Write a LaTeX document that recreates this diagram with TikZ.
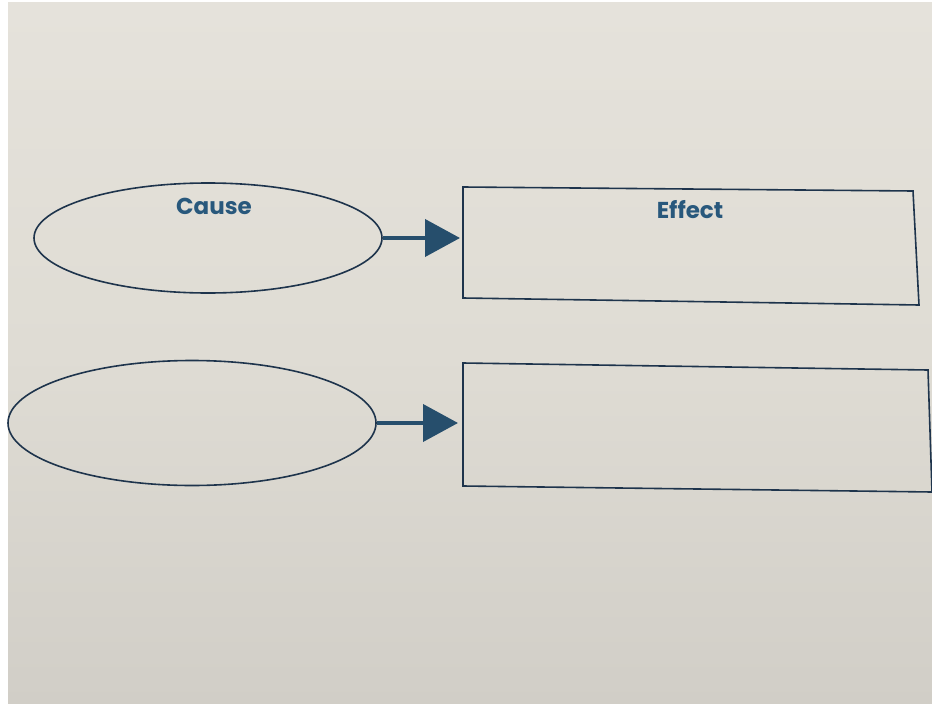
\documentclass[tikz,border=0pt]{standalone}
\usepackage{fontspec}
\setmainfont{Poppins}
\usetikzlibrary{shapes.geometric,arrows.meta}
\definecolor{paperTop}{RGB}{229,226,219}
\definecolor{paperMid}{RGB}{223,220,212}
\definecolor{paperBot}{RGB}{209,206,199}
\definecolor{ink}{RGB}{30,52,76}
\definecolor{textblue}{RGB}{40,88,124}
\definecolor{arrowblue}{RGB}{38,78,108}
\tikzset{
  causeshape/.style={ellipse, draw=ink, line width=1.6pt, inner sep=0pt},
  effectbox/.style={draw=ink, line width=1.6pt},
  label/.style={text=textblue, font=\fontsize{23}{23}\selectfont\bfseries},
  linkarrow/.style={draw=arrowblue, line width=4pt,
    -{Triangle[length=35pt,width=37pt]}, shorten >=3pt},
}
\begin{document}
\begin{tikzpicture}[x=1pt,y=-1pt]
\useasboundingbox (0,0) rectangle (932,704);
\fill[white] (0,0) rectangle (932,704);
\shade[top color=paperTop, bottom color=paperBot, middle color=paperMid] (8,2) rectangle (932,704);
% top row
\node[causeshape, minimum width=348pt, minimum height=110pt] (c1) at (208,238) {};
\node[label] (ct) at (214,206) {Cause};
\draw[effectbox] (463,187) -- (913,191) -- (919,305) -- (463,298) -- cycle;
\node[label] (et) at (690,210) {Effect};
\coordinate (e1w) at (463,238);
\draw[linkarrow] (c1.east) -- (e1w);
% bottom row
\node[causeshape, minimum width=368pt, minimum height=125pt] (c2) at (192,423) {};
\draw[effectbox] (463,363) -- (928,370) -- (932,492) -- (463,486) -- cycle;
\coordinate (e2w) at (461,423);
\draw[linkarrow] (c2.east) -- (e2w);
\end{tikzpicture}
\end{document}
